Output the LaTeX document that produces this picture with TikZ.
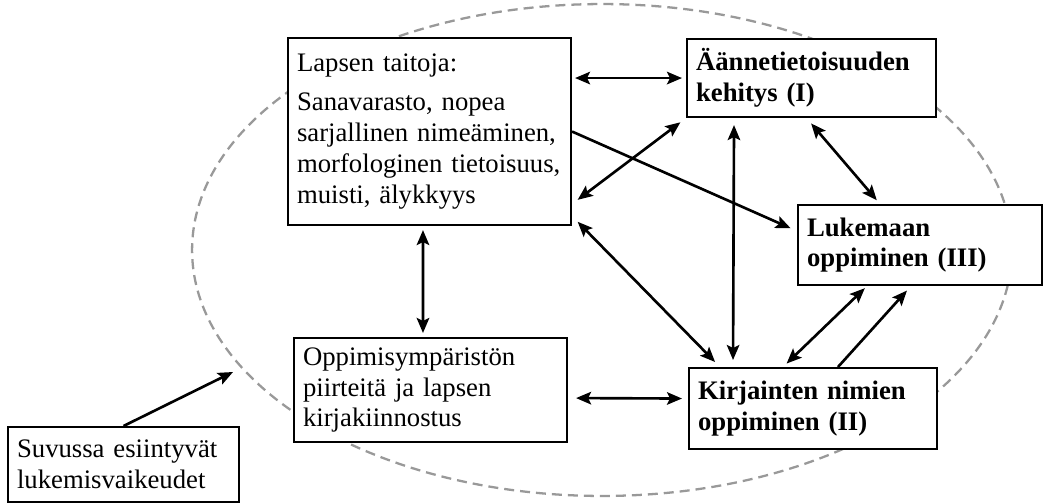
\documentclass[tikz,border=0pt]{standalone}
\usepackage{fontspec}
\setmainfont{Liberation Serif}
\usetikzlibrary{arrows.meta}

\tikzset{
	box/.style = {draw, line width = 1.2pt, fill = white, anchor = north west, align = left, inner xsep = 0.18cm, font = \fontsize{15.2}{17.6}\selectfont},
	bbox/.style = {box, font = \fontsize{15.2}{17.6}\selectfont\bfseries},
	link/.style = {line width = 1.5pt, shorten <= 0.12cm, shorten >= 0.12cm},
	ring/.style = {draw = gray!80, line width = 1.3pt, dash pattern = on 0.2cm off 0.12cm}
}

\begin{document}
\begin{tikzpicture}[x = 0.02cm, y = -0.02cm, >={Stealth[length = 0.3cm, width = 0.25cm, inset = 0.06cm]}]

		\useasboundingbox (0, 0) rectangle (1043, 503);

		\draw[ring] (602, 250) ellipse [x radius = 8.2cm, y radius = 4.92cm];

		\node[box, text width = 5.30cm, minimum height = 3.74cm] (L) at (287, 37) {Lapsen taitoja:\\[0.16cm] Sanavarasto, nopea\\ sarjallinen nimeäminen,\\ morfologinen tietoisuus,\\ muisti, älykkyys};
		\node[bbox, text width = 4.62cm, minimum height = 1.56cm] (A) at (686, 38) {Äännetietoisuuden\\ kehitys (I)};
		\node[bbox, text width = 4.52cm, minimum height = 1.60cm] (R) at (797, 204) {Lukemaan\\ oppiminen (III)};
		\node[bbox, text width = 4.60cm, minimum height = 1.62cm] (K) at (688, 367) {Kirjainten nimien\\ oppiminen (II)};
		\node[box, text width = 5.10cm, minimum height = 2.08cm] (O) at (293, 337) {Oppimisympäristön\\ piirteitä ja lapsen\\ kirjakiinnostus};
		\node[box, text width = 4.26cm, minimum height = 1.50cm] (S) at (7, 426) {Suvussa esiintyvät\\ lukemisvaikeudet};

		\coordinate (rim) at (233, 372);

		\draw[link, <->, shorten <= 0.06cm, shorten >= 0.08cm] (L.east |- A.west) -- (A.west);
		\draw[link, ->, shorten <= 0cm, shorten >= 0.14cm] (L.east) -- ([yshift = 0.28cm]R.west);
		\draw[link, <->, shorten <= 0.14cm, shorten >= 0.14cm] ([yshift = -1.45cm]L.east) -- (A.south west);
		\draw[link, <->, shorten <= 0.16cm, shorten >= 0.14cm] ([yshift = 0.2cm]L.south east) -- ([xshift = 0.64cm]K.north west);
		\draw[link, <->, shorten <= 0.14cm, shorten >= 0.14cm] ([xshift = -1.55cm]A.south) -- ([xshift = 0.9cm]K.north west);
		\draw[link, <->, shorten <= 0.14cm, shorten >= 0.1cm] ([xshift = -0.1cm]A.south) -- ([xshift = -0.8cm]R.north);
		\draw[link, <->, shorten <= 0.1cm, shorten >= 0.06cm] ([xshift = 1.9cm]K.north west) -- ([xshift = 1.4cm]R.south west);
		\draw[link, ->, shorten <= 0cm, shorten >= 0.12cm] ([xshift = 3cm]K.north west) -- ([xshift = 2.28cm]R.south west);
		\draw[link, <->, shorten <= 0.08cm, shorten >= 0.08cm] ([xshift = 2.72cm]L.south west) -- ([xshift = 2.6cm]O.north west);
		\draw[link, <->, shorten <= 0.16cm, shorten >= 0.12cm] ([yshift = -0.16cm]O.east) -- ([yshift = 0.2cm]K.west);
		\draw[link, ->, shorten <= 0cm, shorten >= 0cm] (S.north) -- (rim);

	\end{tikzpicture}
\end{document}
